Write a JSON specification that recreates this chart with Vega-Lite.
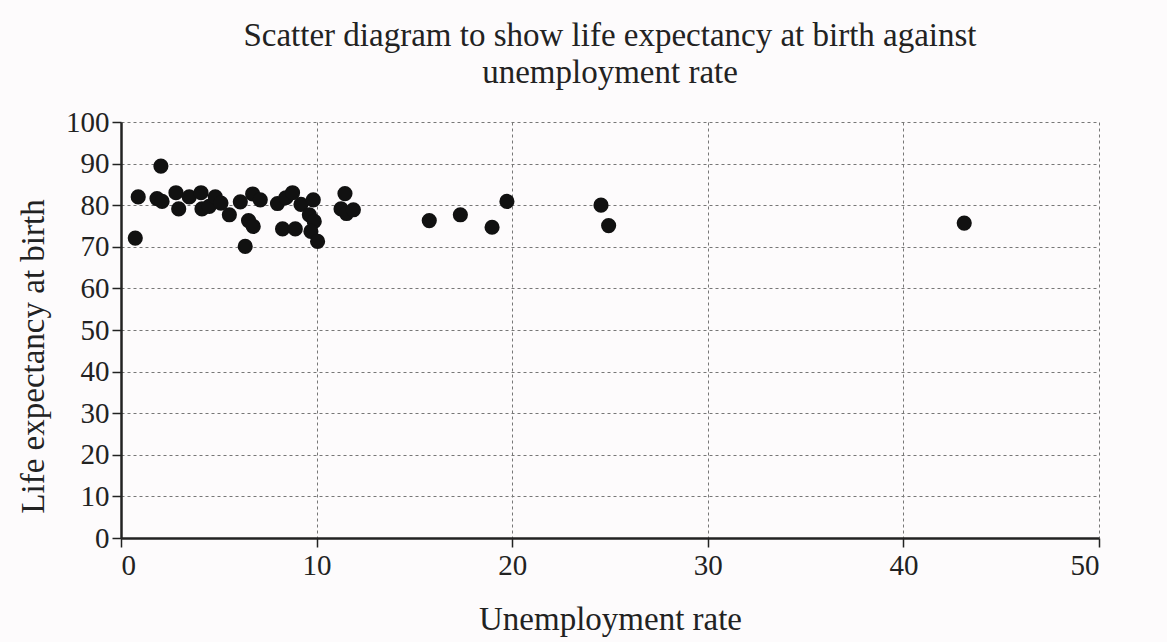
{
  "$schema": "https://vega.github.io/schema/vega-lite/v6.json",
  "width": 978,
  "height": 416,
  "autosize": {"type": "none"},
  "padding": {"left": 121, "top": 122, "right": 68, "bottom": 104},
  "background": "#fdfbfc",
  "title": {
    "text": ["Scatter diagram to show life expectancy at birth against", "unemployment rate"],
    "font": "Liberation Serif",
    "fontSize": 33,
    "fontWeight": "normal",
    "color": "#222222",
    "anchor": "middle",
    "lineHeight": 37,
    "offset": 18
  },
  "config": {
    "view": {"stroke": null},
    "axis": {
      "labelFont": "Liberation Serif",
      "titleFont": "Liberation Serif",
      "labelFontSize": 29,
      "titleFontSize": 33,
      "titleFontWeight": "normal",
      "labelColor": "#222222",
      "titleColor": "#222222",
      "domainColor": "#222222",
      "domainWidth": 2.5,
      "tickColor": "#222222",
      "tickWidth": 1.5,
      "tickSize": 9,
      "gridColor": "#777777",
      "gridDash": [3, 3],
      "gridWidth": 1
    }
  },
  "data": {
    "values": [
      {"u": 2.04, "le": 89.4},
      {"u": 0.88, "le": 82.0},
      {"u": 0.73, "le": 72.1},
      {"u": 1.84, "le": 81.6},
      {"u": 2.1, "le": 80.9},
      {"u": 2.81, "le": 83.0},
      {"u": 2.95, "le": 79.1},
      {"u": 3.49, "le": 82.0},
      {"u": 4.09, "le": 83.0},
      {"u": 4.14, "le": 79.1},
      {"u": 4.51, "le": 79.7},
      {"u": 4.82, "le": 82.0},
      {"u": 5.11, "le": 80.5},
      {"u": 5.54, "le": 77.7},
      {"u": 6.1, "le": 80.8},
      {"u": 6.73, "le": 82.7},
      {"u": 7.12, "le": 81.3},
      {"u": 6.52, "le": 76.3},
      {"u": 6.76, "le": 74.9},
      {"u": 6.35, "le": 70.1},
      {"u": 8.0, "le": 80.4},
      {"u": 8.43, "le": 81.8},
      {"u": 8.77, "le": 83.0},
      {"u": 9.2, "le": 80.2},
      {"u": 9.83, "le": 81.3},
      {"u": 9.63, "le": 77.7},
      {"u": 9.88, "le": 76.1},
      {"u": 8.26, "le": 74.3},
      {"u": 8.91, "le": 74.3},
      {"u": 9.71, "le": 73.7},
      {"u": 10.05, "le": 71.3},
      {"u": 11.45, "le": 82.8},
      {"u": 11.25, "le": 79.1},
      {"u": 11.53, "le": 78.0},
      {"u": 11.88, "le": 78.9},
      {"u": 15.76, "le": 76.3},
      {"u": 17.35, "le": 77.7},
      {"u": 18.97, "le": 74.7},
      {"u": 19.73, "le": 80.9},
      {"u": 24.54, "le": 80.0},
      {"u": 24.93, "le": 75.1},
      {"u": 43.11, "le": 75.7}
    ]
  },
  "mark": {"type": "circle", "size": 230, "color": "#111111", "opacity": 1},
  "encoding": {
    "x": {
      "field": "u",
      "type": "quantitative",
      "title": "Unemployment rate",
      "scale": {"domain": [0, 50], "nice": false, "zero": true},
      "axis": {"values": [0, 10, 20, 30, 40, 50], "titlePadding": 23, "labelPadding": 4}
    },
    "y": {
      "field": "le",
      "type": "quantitative",
      "title": "Life expectancy at birth",
      "scale": {"domain": [0, 100], "nice": false},
      "axis": {"values": [0, 10, 20, 30, 40, 50, 60, 70, 80, 90, 100], "titleX": -71, "titleY": 234, "labelPadding": 3}
    }
  }
}
